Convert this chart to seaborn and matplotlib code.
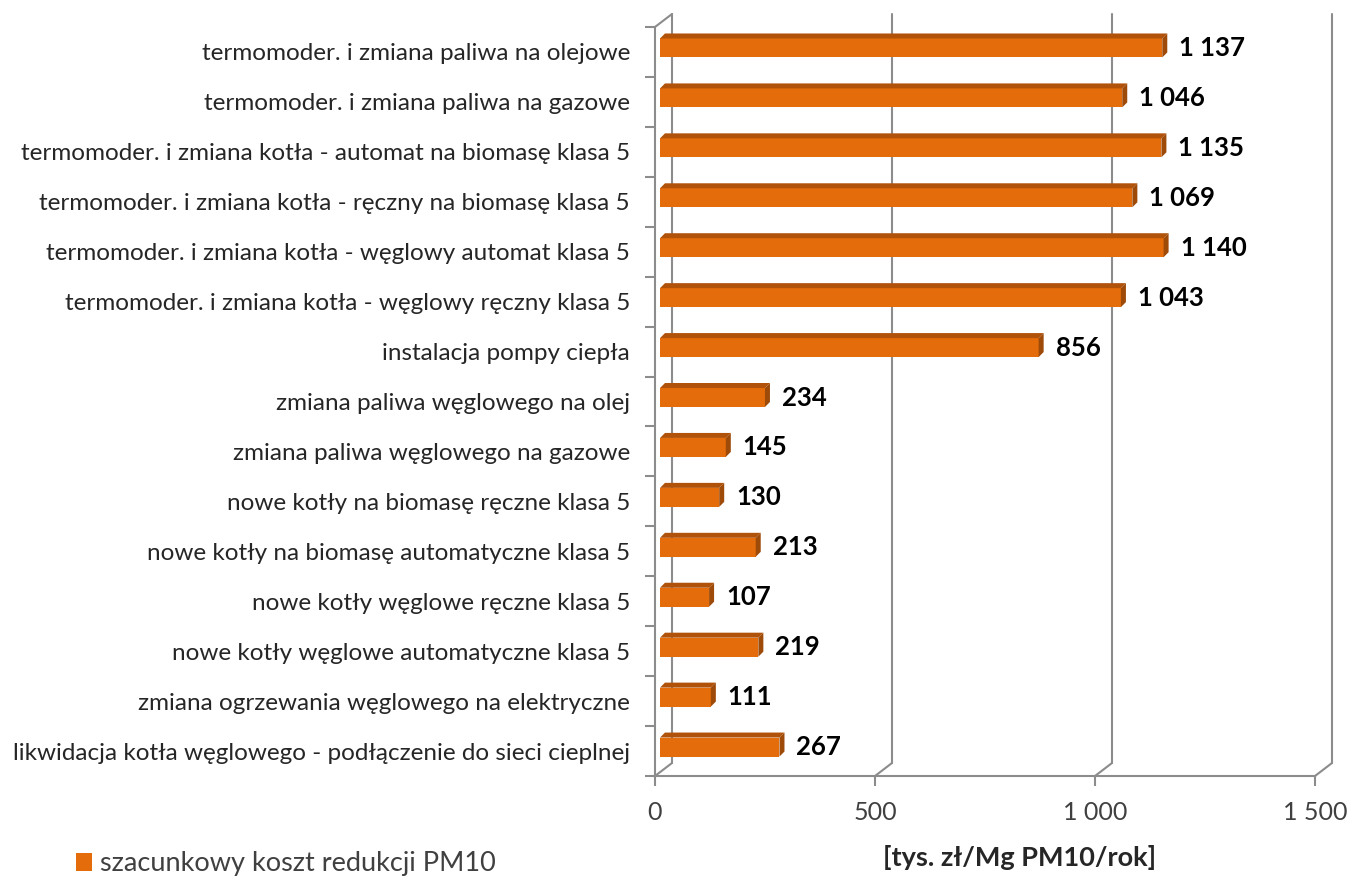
"""
Szacunkowy koszt redukcji PM10 - wykres slupkowy w stylu 3D (Excel).
"""

import matplotlib.pyplot as plt
import seaborn as sns
from matplotlib.patches import Polygon

categories = [
    "termomoder. i zmiana paliwa na olejowe",
    "termomoder. i zmiana paliwa na gazowe",
    "termomoder. i zmiana kotła - automat na biomasę klasa 5",
    "termomoder. i zmiana kotła - ręczny na biomasę klasa 5",
    "termomoder. i zmiana kotła - węglowy automat klasa 5",
    "termomoder. i zmiana kotła - węglowy ręczny klasa 5",
    "instalacja pompy ciepła",
    "zmiana paliwa węglowego na olej",
    "zmiana paliwa węglowego na gazowe",
    "nowe kotły na biomasę ręczne klasa 5",
    "nowe kotły na biomasę automatyczne klasa 5",
    "nowe kotły węglowe ręczne klasa 5",
    "nowe kotły węglowe automatyczne klasa 5",
    "zmiana ogrzewania węglowego na elektryczne",
    "likwidacja kotła węglowego - podłączenie do sieci cieplnej",
]
values = [1137, 1046, 1135, 1069, 1140, 1043, 856, 234, 145, 130, 213,
          107, 219, 111, 267]
x_ticks = [0, 500, 1000, 1500]
x_tick_labels = ["0", "500", "1 000", "1 500"]
series_name = "szacunkowy koszt redukcji PM10"
x_title = "[tys. zł/Mg PM10/rok]"

ORANGE = "#E46C0A"
TOP = "#B0520A"
SIDE = "#9E4A08"
GRID = "#8C8C8C"
TEXT = "#262626"

sns.set_theme(style="white")
plt.rcParams['font.family'] = ['Lato', 'DejaVu Sans']

W, H = 1353, 881
fig = plt.figure(figsize=(W / 100, H / 100), dpi=100)
ax = fig.add_axes([655 / W, 1 - 776 / H, 660 / W, 749 / H])
ax.patch.set_alpha(0)

# data units per pixel
ux = 1500 / 660
uy = 15 / 749

sns.barplot(x=values, y=categories, orient='h', color=ORANGE, width=0.38,
            saturation=1, ax=ax, label=series_name, zorder=3, linewidth=0)
ax.set_xlim(0, 1500)
ax.set_ylim(14.5, -0.5)

# back wall and floor lines (3D effect)
wall_dx, wall_dy = 17 * ux, -13 * uy
for g in x_ticks:
    ax.plot([g + wall_dx] * 2, [-0.5 + wall_dy, 14.5 + wall_dy],
            color=GRID, lw=1.5, clip_on=False, zorder=1)
    ax.plot([g, g + wall_dx], [14.5, 14.5 + wall_dy],
            color=GRID, lw=1.5, clip_on=False, zorder=1)
ax.plot([0, wall_dx], [-0.5, -0.5 + wall_dy], color=GRID, lw=1.5,
        clip_on=False, zorder=1)

# bars: shift into the depth and add top / side faces
bar_dx, bar_dy = 5 * ux, -5 * uy
for p, v in zip(ax.patches, values):
    p.set_x(p.get_x() + 5 * ux)
    p.set_y(p.get_y() - 4 * uy)
    x0 = p.get_x()
    x1 = x0 + p.get_width() + 2 * ux
    p.set_width(x1 - x0)
    yt = p.get_y()
    yb = yt + p.get_height()
    ax.add_patch(Polygon([(x0, yt), (x0 + bar_dx, yt + bar_dy),
                          (x1 + bar_dx, yt + bar_dy), (x1, yt)],
                         closed=True, color=TOP, zorder=3, lw=0))
    ax.add_patch(Polygon([(x1, yt), (x1 + bar_dx, yt + bar_dy),
                          (x1 + bar_dx, yb + bar_dy), (x1, yb)],
                         closed=True, color=SIDE, zorder=3, lw=0))
    label = f"{v:,}".replace(",", " ")
    ax.text(x1 + bar_dx + 12 * ux, (yt + yb) / 2, label, ha='left',
            va='center', fontsize=18.5, fontweight='bold', color='black',
            clip_on=False)

# axes
for side in ['top', 'right']:
    ax.spines[side].set_visible(False)
for side in ['left', 'bottom']:
    ax.spines[side].set_color(GRID)
    ax.spines[side].set_linewidth(1.5)

ax.set_xticks(x_ticks, x_tick_labels)
ax.tick_params(axis='x', bottom=True, length=7, width=1.5, color=GRID,
               pad=11, labelsize=18, labelcolor='#404040')
ax.set_yticks([i - 0.5 for i in range(16)], minor=True)
ax.tick_params(axis='y', which='major', left=False, length=0, pad=18,
               labelsize=17.5, labelcolor=TEXT)
ax.tick_params(axis='y', which='minor', left=True, length=7, width=1.5,
               color=GRID)
ax.set_xlabel("")
ax.set_ylabel("")

fig.text(1020 / W, 1 - 858 / H, x_title, ha='center', va='center',
         fontsize=19.5, fontweight='bold', color=TEXT)

ax.legend(loc='center left', bbox_to_anchor=(76 / W, 1 - 864 / H),
          bbox_transform=fig.transFigure, frameon=False, handlelength=0.6,
          handleheight=0.65, handletextpad=0.3, borderpad=0,
          borderaxespad=0, fontsize=19.5, labelcolor='#404040')

fig.savefig('out.png', dpi=100)
